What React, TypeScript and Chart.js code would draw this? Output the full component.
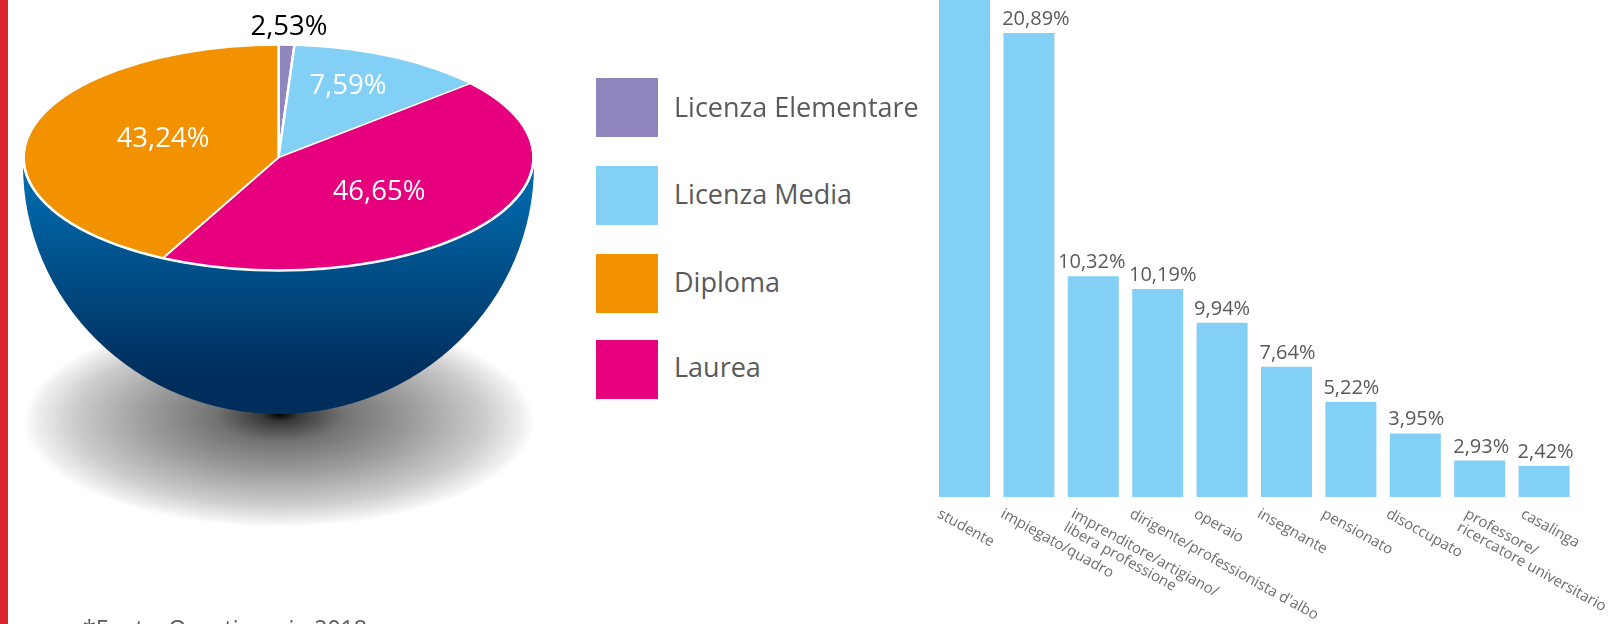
import React, { useEffect, useRef } from "react";
import { Chart, registerables } from "chart.js";

Chart.register(...registerables);

// Pie: slice shares are measured from the drawn slices (the picture is not to scale
// with its printed percentages); the printed percentages are kept as the labels.
const pieCategories = ["Licenza Elementare", "Licenza Media", "Laurea", "Diploma"];
const pieDrawnShares = [1.0, 12.6, 43.9, 42.5];
const piePrintedLabels = ["2,53%", "7,59%", "46,65%", "43,24%"];
const pieColors = ["#9085bc", "#82d0f5", "#e6007e", "#f39200"];

const legendNames = ["Licenza Elementare", "Licenza Media", "Diploma", "Laurea"];

// Bars: heights are measured from the drawn bars (first bar runs off the top of the
// picture, its label is cut off); printed percentages are kept as labels.
const barCategories: (string | string[])[] = [
  "studente",
  "impiegato/quadro",
  ["imprenditore/artigiano/", "libera professione"],
  "dirigente/professionista d'albo",
  "operaio",
  "insegnante",
  "pensionato",
  "disoccupato",
  ["professore/", "ricercatore universitario"],
  "casalinga",
];
const barDrawnValues = [26.5, 20.89, 9.94, 9.37, 7.85, 5.86, 4.28, 2.86, 1.64, 1.4];
const barPrintedLabels = ["", "20,89%", "10,32%", "10,19%", "9,94%", "7,64%", "5,22%", "3,95%", "2,93%", "2,42%"];

const FONT = '"Open Sans"';
const TEXT = "#5a5a5a";

// layout only
const pieGeom = { cx: 278.5, cy: 157.5, rx: 255, ry: 113 };
const bowlGeom = { cx: 278.5, cy: 165, rx: 255.5, ry: 249 };
const shadowGeom = { cx: 279, cy: 421, rx: 256, ry: 106, focusY: 414, focusX: 280 };
const pieLabelPos = [
  { x: 289, y: 27, color: "#000000" },
  { x: 348, y: 86, color: "#ffffff" },
  { x: 379, y: 192, color: "#ffffff" },
  { x: 163, y: 139, color: "#ffffff" },
];
const legendTop = [78, 166, 254, 340];
const legendTextTop = [77, 164, 252, 337];
const barLabelNudgeX = [0, 7, -1.5, 5, 0, 1, 0.5, 1, 1.5, 1.5];
const tickNudgeX = [-26, -27, -21, -27, -27, -28, -28, -28, -14, -22];
const TICK_ANGLE = (29 * Math.PI) / 180;

const bowlPlugin = {
  id: "bowl",
  beforeDatasetsDraw(chart: any) {
    const { ctx } = chart;
    ctx.save();
    // shadow
    ctx.save();
    const k = shadowGeom.ry / shadowGeom.rx;
    ctx.translate(shadowGeom.cx, shadowGeom.cy);
    ctx.scale(1, k);
    const g = ctx.createRadialGradient(
      shadowGeom.focusX - shadowGeom.cx,
      (shadowGeom.focusY - shadowGeom.cy) / k,
      0,
      0,
      0,
      shadowGeom.rx
    );
    g.addColorStop(0, "rgba(0,0,0,1)");
    g.addColorStop(0.07, "rgba(0,0,0,0.78)");
    g.addColorStop(0.25, "rgba(0,0,0,0.55)");
    g.addColorStop(0.5, "rgba(0,0,0,0.4)");
    g.addColorStop(0.8, "rgba(0,0,0,0.2)");
    g.addColorStop(0.95, "rgba(0,0,0,0.06)");
    g.addColorStop(1, "rgba(0,0,0,0)");
    ctx.fillStyle = g;
    ctx.beginPath();
    ctx.arc(0, 0, shadowGeom.rx, 0, Math.PI * 2);
    ctx.fill();
    ctx.restore();
    // bowl
    const b = ctx.createLinearGradient(0, 190, 0, 375);
    b.addColorStop(0, "#0068aa");
    b.addColorStop(1, "#002e5c");
    ctx.fillStyle = b;
    ctx.beginPath();
    ctx.ellipse(bowlGeom.cx, bowlGeom.cy, bowlGeom.rx, bowlGeom.ry, 0, 0, Math.PI);
    ctx.closePath();
    ctx.fill();
    ctx.restore();

    // tilt the library's pie into an ellipse
    const arc = chart.getDatasetMeta(0).data[0];
    ctx.save();
    ctx.translate(pieGeom.cx, pieGeom.cy);
    ctx.scale(pieGeom.rx / arc.outerRadius, pieGeom.ry / arc.outerRadius);
    ctx.translate(-arc.x, -arc.y);
  },
  afterDatasetsDraw(chart: any) {
    const { ctx } = chart;
    ctx.restore();
    ctx.save();
    ctx.strokeStyle = "#ffffff";
    ctx.lineWidth = 2.5;
    ctx.beginPath();
    ctx.ellipse(pieGeom.cx, pieGeom.cy, pieGeom.rx, pieGeom.ry, 0, 0, Math.PI * 2);
    ctx.stroke();
    ctx.font = `27.5px ${FONT}`;
    ctx.textAlign = "center";
    ctx.textBaseline = "middle";
    piePrintedLabels.forEach((t, i) => {
      ctx.fillStyle = pieLabelPos[i].color;
      ctx.fillText(t, pieLabelPos[i].x, pieLabelPos[i].y);
    });
    ctx.restore();
  },
};

const barTextPlugin = {
  id: "barText",
  afterDraw(chart: any) {
    const { ctx } = chart;
    const meta = chart.getDatasetMeta(0);
    const xs = chart.scales.x;
    ctx.save();
    ctx.font = `20px ${FONT}`;
    ctx.fillStyle = TEXT;
    ctx.textAlign = "center";
    ctx.textBaseline = "alphabetic";
    barPrintedLabels.forEach((t, i) => {
      if (!t) return;
      const el = meta.data[i];
      ctx.fillText(t, el.x + barLabelNudgeX[i], el.y - 8);
    });
    ctx.font = `15px ${FONT}`;
    ctx.fillStyle = "#6e6e6e";
    ctx.textAlign = "left";
    ctx.textBaseline = "middle";
    barCategories.forEach((c, i) => {
      const lines = Array.isArray(c) ? c : [c];
      ctx.save();
      ctx.translate(xs.getPixelForValue(i) + tickNudgeX[i], chart.chartArea.bottom + 16);
      ctx.rotate(TICK_ANGLE);
      lines.forEach((l, j) => ctx.fillText(l, 0, j * 15.5));
      ctx.restore();
    });
    ctx.restore();
  },
};

export default function App() {
  const pieRef = useRef<HTMLCanvasElement>(null);
  const barRef = useRef<HTMLCanvasElement>(null);

  useEffect(() => {
    document.body.style.margin = "0";
    const pie = new Chart(pieRef.current!, {
      type: "pie",
      data: {
        labels: pieCategories,
        datasets: [
          {
            data: pieDrawnShares,
            backgroundColor: pieColors,
            borderColor: "#ffffff",
            borderWidth: 2.5,
          },
        ],
      },
      options: {
        animation: false,
        responsive: false,
        layout: { padding: { left: 24, right: 26, top: 0, bottom: 100 } },
        plugins: { legend: { display: false }, tooltip: { enabled: false } },
      },
      plugins: [bowlPlugin],
    });
    const bar = new Chart(barRef.current!, {
      type: "bar",
      data: {
        labels: barCategories,
        datasets: [
          {
            data: barDrawnValues,
            backgroundColor: "#82d0f5",
            barPercentage: 0.792,
            categoryPercentage: 1,
          },
        ],
      },
      options: {
        animation: false,
        responsive: false,
        layout: { padding: { left: 32.3, right: 36.7, top: 0, bottom: 127 } },
        plugins: { legend: { display: false }, tooltip: { enabled: false } },
        scales: {
          x: { display: false },
          y: { display: false, min: 0, max: 22.38 },
        },
      },
      plugins: [barTextPlugin],
    });
    return () => {
      pie.destroy();
      bar.destroy();
    };
  }, []);

  return (
    <div style={{ position: "absolute", left: 0, top: 0, width: 1613, height: 624, overflow: "hidden", background: "#fff" }}>
      <div style={{ position: "absolute", left: 0, top: 0, width: 8, height: 624, background: "#d9232e" }} />
      <canvas ref={pieRef} width={570} height={624} style={{ position: "absolute", left: 0, top: 0, width: 570, height: 624 }} />
      <canvas ref={barRef} width={713} height={624} style={{ position: "absolute", left: 900, top: 0, width: 713, height: 624 }} />
      {legendNames.map((name, i) => (
        <React.Fragment key={name}>
          <div style={{ position: "absolute", left: 596, top: legendTop[i], width: 62, height: 59, background: pieColors[pieCategories.indexOf(name)] }} />
          <div style={{ position: "absolute", left: 674, top: legendTextTop[i], height: 59, lineHeight: "59px", fontFamily: FONT, fontSize: 27, color: TEXT, whiteSpace: "nowrap" }}>
            {name}
          </div>
        </React.Fragment>
      ))}
      <div style={{ position: "absolute", left: 83, top: 613, lineHeight: "30px", fontFamily: FONT, fontSize: 23, color: TEXT, whiteSpace: "nowrap" }}>
        *Fonte: Questionario 2018
      </div>
    </div>
  );
}
